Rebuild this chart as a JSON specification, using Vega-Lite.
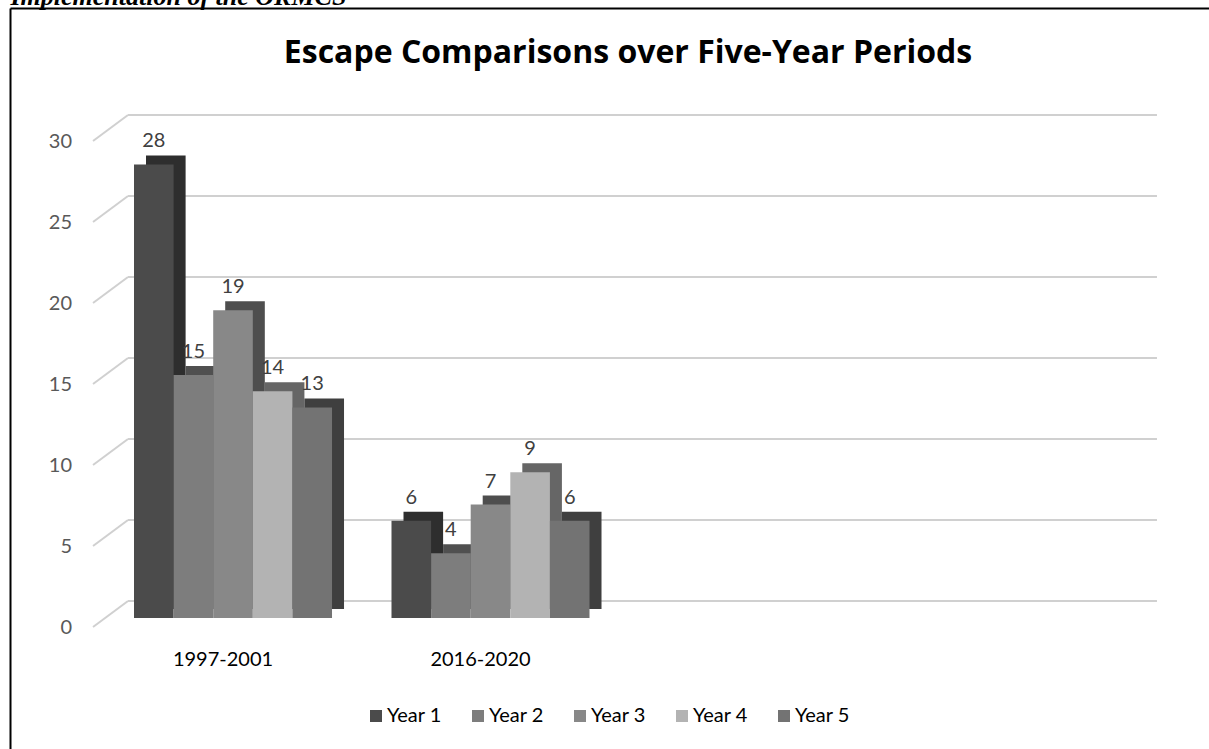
{
  "$schema": "https://vega.github.io/schema/vega-lite/v6.json",
  "autosize": {"type": "none"},
  "padding": {"left": 10, "top": 8, "right": 0, "bottom": 0},
  "width": 1199,
  "height": 741,
  "background": "#ffffff",
  "config": {"view": {"stroke": null}, "font": "Lato"},
  "datasets": {
    "bars": [
      {"period": "1997-2001", "series": "Year 1", "value": 28},
      {"period": "1997-2001", "series": "Year 2", "value": 15},
      {"period": "1997-2001", "series": "Year 3", "value": 19},
      {"period": "1997-2001", "series": "Year 4", "value": 14},
      {"period": "1997-2001", "series": "Year 5", "value": 13},
      {"period": "2016-2020", "series": "Year 1", "value": 6},
      {"period": "2016-2020", "series": "Year 2", "value": 4},
      {"period": "2016-2020", "series": "Year 3", "value": 7},
      {"period": "2016-2020", "series": "Year 4", "value": 9},
      {"period": "2016-2020", "series": "Year 5", "value": 6}
    ],
    "ticks": [{"v": 0}, {"v": 5}, {"v": 10}, {"v": 15}, {"v": 20}, {"v": 25}, {"v": 30}],
    "periods": [{"period": "1997-2001"}, {"period": "2016-2020"}]
  },
  "resolve": {
    "axis": {"x": "independent", "y": "independent"},
    "scale": {"xOffset": "independent", "color": "independent"},
    "legend": {"color": "independent"}
  },
  "layer": [
    {
      "data": {"name": "ticks"},
      "mark": {"type": "rule", "color": "#d0d0d0", "strokeWidth": 2, "yOffset": 9, "y2Offset": -17},
      "encoding": {
        "x": {"datum": "1997-2001", "type": "nominal", "bandPosition": -0.0437, "axis": null,
              "scale": {"domain": ["1997-2001", "2016-2020", "c3", "c4"], "paddingInner": 0, "paddingOuter": 0.3282, "align": 0.5577}},
        "x2": {"datum": "1997-2001", "bandPosition": 0.0922},
        "y": {"field": "v", "type": "quantitative", "axis": null,
              "scale": {"domain": [-8.086, 37.654], "nice": false, "zero": false}},
        "y2": {"field": "v"}
      }
    },
    {
      "data": {"name": "ticks"},
      "mark": {"type": "rule", "color": "#d0d0d0", "strokeWidth": 2, "yOffset": -17},
      "encoding": {
        "x": {"datum": "1997-2001", "type": "nominal", "bandPosition": 0.0922, "axis": null,
              "scale": {"domain": ["1997-2001", "2016-2020", "c3", "c4"], "paddingInner": 0, "paddingOuter": 0.3282, "align": 0.5577}},
        "x2": {"datum": "c4", "bandPosition": 1.0883},
        "y": {"field": "v", "type": "quantitative", "axis": null,
              "scale": {"domain": [-8.086, 37.654], "nice": false, "zero": false}}
      }
    },
    {
      "data": {"name": "ticks"},
      "mark": {"type": "text", "align": "right", "baseline": "middle", "fontSize": 20, "font": "Lato", "color": "#595959", "yOffset": 10},
      "encoding": {
        "x": {"datum": "1997-2001", "type": "nominal", "bandPosition": -0.1252, "axis": null,
              "scale": {"domain": ["1997-2001", "2016-2020", "c3", "c4"], "paddingInner": 0, "paddingOuter": 0.3282, "align": 0.5577}},
        "y": {"field": "v", "type": "quantitative", "axis": null,
              "scale": {"domain": [-8.086, 37.654], "nice": false, "zero": false}},
        "text": {"field": "v", "type": "quantitative"}
      }
    },
    {
      "data": {"name": "bars"},
      "mark": {"type": "bar", "yOffset": -9, "y2Offset": -9},
      "encoding": {
        "x": {"field": "period", "type": "nominal", "axis": null,
              "scale": {"domain": ["1997-2001", "2016-2020", "c3", "c4"], "paddingInner": 0, "paddingOuter": 0.3282, "align": 0.5577}},
        "xOffset": {"field": "series", "type": "nominal",
              "scale": {"domain": ["Year 1", "Year 2", "Year 3", "Year 4", "Year 5"], "paddingInner": 0, "paddingOuter": 0.751, "range": [12, 269.5]}},
        "y": {"field": "value", "type": "quantitative", "axis": null,
              "scale": {"domain": [-8.086, 37.654], "nice": false, "zero": false}},
        "y2": {"datum": 0},
        "color": {"field": "series", "type": "nominal", "legend": null,
              "scale": {"domain": ["Year 1", "Year 2", "Year 3", "Year 4", "Year 5"], "range": ["#2e2e2e", "#505050", "#4e4e4e", "#666666", "#3f3f3f"]}}
      }
    },
    {
      "resolve": {"axis": {"x": "independent", "y": "independent"}},
      "layer": [
        {
          "data": {"name": "bars"},
          "mark": {"type": "bar"},
          "encoding": {
            "x": {"field": "period", "type": "nominal",
                  "scale": {"domain": ["1997-2001", "2016-2020", "c3", "c4"], "paddingInner": 0, "paddingOuter": 0.3282, "align": 0.5577},
                  "axis": {"orient": "top", "labels": false, "ticks": false, "grid": false, "domain": true, "domainColor": "#000000", "domainWidth": 2,
                           "title": "Escape Comparisons over Five-Year Periods", "titleAngle": 0, "titleX": 617.5, "titleY": 54, "titleAlign": "center", "titleBaseline": "alphabetic",
                           "titleFont": "Open Sans", "titleFontWeight": "bold", "titleFontSize": 32, "titleColor": "#000000"}},
            "xOffset": {"field": "series", "type": "nominal",
                  "scale": {"domain": ["Year 1", "Year 2", "Year 3", "Year 4", "Year 5"], "paddingInner": 0, "paddingOuter": 0.751}},
            "y": {"field": "value", "type": "quantitative",
                  "scale": {"domain": [-8.086, 37.654], "nice": false, "zero": false},
                  "axis": {"orient": "left", "labels": false, "ticks": false, "grid": false, "domain": true, "domainColor": "#000000", "domainWidth": 2,
                           "title": "Implementation of the ORMCS", "titleAngle": 0, "titleX": 0, "titleY": -4, "titleAlign": "left", "titleBaseline": "alphabetic",
                           "titleFont": "Liberation Serif", "titleFontStyle": "italic", "titleFontWeight": "bold", "titleFontSize": 26, "titleColor": "#000000"}},
            "y2": {"datum": 0},
            "color": {"field": "series", "type": "nominal",
                  "scale": {"domain": ["Year 1", "Year 2", "Year 3", "Year 4", "Year 5"], "range": ["#4b4b4b", "#7d7d7d", "#888888", "#b3b3b3", "#737373"]},
                  "legend": {"orient": "none", "legendX": 356, "legendY": 698, "direction": "horizontal", "title": null,
                             "symbolType": "square", "symbolSize": 144, "symbolStrokeWidth": 0, "symbolOpacity": 1,
                             "labelFont": "Lato", "labelFontSize": 20, "labelColor": "#000000", "labelOffset": 1, "columnPadding": 26, "padding": 0}}
          }
        },
        {
          "data": {"name": "bars"},
          "mark": {"type": "text", "align": "center", "baseline": "alphabetic", "fontSize": 20, "font": "Lato", "color": "#404040", "yOffset": -17},
          "encoding": {
            "x": {"field": "period", "type": "nominal", "axis": null,
                  "scale": {"domain": ["1997-2001", "2016-2020", "c3", "c4"], "paddingInner": 0, "paddingOuter": 0.3282, "align": 0.5577}},
            "xOffset": {"field": "series", "type": "nominal",
                  "scale": {"domain": ["Year 1", "Year 2", "Year 3", "Year 4", "Year 5"], "paddingInner": 0, "paddingOuter": 0.751}},
            "y": {"field": "value", "type": "quantitative", "axis": null,
                  "scale": {"domain": [-8.086, 37.654], "nice": false, "zero": false}},
            "text": {"field": "value", "type": "quantitative"}
          }
        }
      ]
    },
    {
      "data": {"name": "periods"},
      "mark": {"type": "text", "align": "center", "baseline": "middle", "fontSize": 20, "font": "Lato", "color": "#000000", "yOffset": 42, "xOffset": -10},
      "encoding": {
        "x": {"field": "period", "type": "nominal", "axis": null,
              "scale": {"domain": ["1997-2001", "2016-2020", "c3", "c4"], "paddingInner": 0, "paddingOuter": 0.3282, "align": 0.5577}},
        "y": {"datum": 0, "type": "quantitative", "axis": null,
              "scale": {"domain": [-8.086, 37.654], "nice": false, "zero": false}},
        "text": {"field": "period", "type": "nominal"}
      }
    }
  ]
}
